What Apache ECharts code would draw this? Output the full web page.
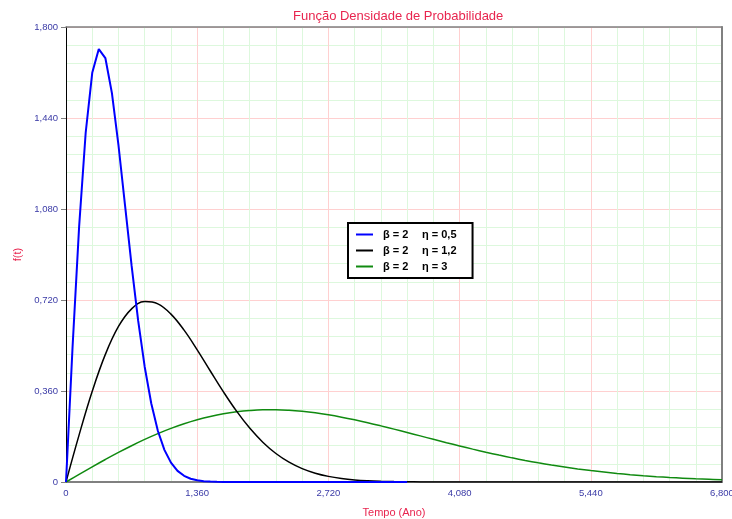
<!DOCTYPE html>
<html>
<head>
<meta charset="utf-8">
<script src="https://cdn.jsdelivr.net/npm/echarts@6/dist/echarts.min.js"></script>
<style>html,body{margin:0;padding:0;background:#fff;}#c{width:732px;height:519px;}</style>
</head>
<body>
<div id="c"></div>
<script>
// Tempo (Ano) sample points
const tempoA = [0,0.068,0.136,0.204,0.272,0.34,0.408,0.476,0.544,0.612,0.68,0.748,0.816,0.884,0.952,1.02,1.088,1.156,1.224,1.292,1.36,1.428,1.496,1.564,1.632,1.7,3.536];
const tempoB = [0,0.136,0.272,0.408,0.544,0.68,0.816,0.952,1.088,1.224,1.36,1.496,1.632,1.768,1.904,2.04,2.176,2.312,2.448,2.584,2.72,2.856,2.992,3.128,3.264,3.4,3.536,3.672,3.808,3.944,4.08,4.216,4.352,4.488,4.624,4.76,4.896,5.032,5.168,5.304,5.44,5.576,5.712,5.848,5.984,6.12,6.256,6.392,6.528,6.664,6.8];
// f(t) values
const fEta05 = [0,0.534,1.0104,1.3817,1.6186,1.7128,1.6772,1.5385,1.3322,1.0945,0.8557,0.6383,0.4551,0.3105,0.2029,0.1272,0.0765,0.0441,0.0245,0.013,0.0067,0.0033,0.0016,0.0007,0.0003,0.0001,0];
const fEta12 = [0,0.1865,0.3589,0.5048,0.6152,0.685,0.7137,0.7047,0.6642,0.6007,0.5229,0.4392,0.3566,0.2802,0.2133,0.1575,0.1128,0.0784,0.053,0.0348,0.0222,0.0138,0.0083,0.0049,0.0028,0.0015,0.0008,0.0004,0.0002,0.0001,0,0,0,0,0,0,0,0,0,0,0,0,0,0,0,0,0,0,0,0,0];
const fEta3 = [0,0.0302,0.06,0.089,0.117,0.1435,0.1684,0.1913,0.212,0.2303,0.2461,0.2592,0.2698,0.2776,0.2828,0.2855,0.2857,0.2837,0.2795,0.2735,0.2657,0.2564,0.2459,0.2344,0.222,0.2092,0.1959,0.1824,0.1689,0.1556,0.1426,0.13,0.1179,0.1064,0.0955,0.0853,0.0759,0.0671,0.0591,0.0517,0.0451,0.0392,0.0338,0.0291,0.0249,0.0212,0.018,0.0152,0.0127,0.0107,0.0089];
const seriesNames = ['β = 2|η = 0,5', 'β = 2|η = 1,2', 'β = 2|η = 3'];
const xTicks = [0,1.36,2.72,4.08,5.44,6.8];
const yTicks = [0,0.36,0.72,1.08,1.44,1.8];

const pairs = (xs, ys) => xs.map((x, i) => [x, ys[i]]);
const fmt = v => v === 0 ? '0' : v.toFixed(3).replace('.', ',');
const tickColor = '#3a3aa6';
const fontFam = 'Liberation Sans, Arial, sans-serif';
const minor = {show: true, lineStyle: {color: '#ddf8dd', width: 1}};
const major = {show: true, lineStyle: {color: '#ffd0d0', width: 1}};

const chart = echarts.init(document.getElementById('c'), null, {renderer: 'canvas'});
chart.setOption({
  animation: false,
  backgroundColor: '#ffffff',
  title: {
    text: 'Função Densidade de Probabilidade',
    left: 288, top: 5,
    textStyle: {color: '#e8254f', fontSize: 13, fontWeight: 'normal', fontFamily: fontFam}
  },
  grid: {left: 66, right: 10, top: 27, bottom: 37, show: false, containLabel: false, outerBoundsMode: 'none'},
  legend: {
    orient: 'vertical', left: 348, top: 223,
    backgroundColor: '#ffffff', borderColor: '#000000', borderWidth: 2,
    padding: [5, 16, 5, 8], itemGap: 3, itemWidth: 17, itemHeight: 10,
    icon: 'path://M0,4 L17,4 L17,6 L0,6 Z',
    formatter: name => { const p = name.split('|'); return '{a|' + p[0] + '}{b|' + p[1] + '}'; },
    textStyle: {
      color: '#000', fontWeight: 'bold', fontSize: 11, fontFamily: fontFam, lineHeight: 13,
      rich: {a: {width: 39, padding: [0, 0, 0, 5], fontWeight: 'bold', fontSize: 11, fontFamily: fontFam, color: '#000'},
             b: {fontWeight: 'bold', fontSize: 11, fontFamily: fontFam, color: '#000'}}
    },
    data: seriesNames
  },
  xAxis: [{
    type: 'value', min: 0, max: 6.8, interval: 1.36,
    name: 'Tempo (Ano)', nameLocation: 'middle', nameGap: 25,
    nameTextStyle: {color: '#e8254f', fontSize: 11, fontFamily: fontFam},
    axisLine: {show: true, onZero: false, lineStyle: {color: '#808080', width: 2}},
    axisTick: {show: false},
    axisLabel: {color: tickColor, fontSize: 9.5, fontFamily: fontFam, margin: 6, formatter: fmt, showMaxLabel: true},
    splitLine: major,
    minorTick: {show: false, splitNumber: 5},
    minorSplitLine: minor
  }, {
    type: 'value', position: 'top', min: 0, max: 6.8, interval: 1.36,
    axisLine: {show: true, onZero: false, lineStyle: {color: '#808080', width: 1.5}},
    axisTick: {show: false}, axisLabel: {show: false}, splitLine: {show: false}
  }],
  yAxis: [{
    type: 'value', min: 0, max: 1.8, interval: 0.36,
    name: 'f(t)', nameLocation: 'middle', nameGap: 41,
    nameTextStyle: {color: '#e8254f', fontSize: 11, fontFamily: fontFam},
    axisLine: {show: true, onZero: false, lineStyle: {color: '#000000', width: 1}},
    axisTick: {show: true, length: 5, lineStyle: {color: '#808080'}},
    axisLabel: {color: tickColor, fontSize: 9.5, fontFamily: fontFam, margin: 8, formatter: fmt},
    splitLine: major,
    minorTick: {show: false, splitNumber: 5},
    minorSplitLine: minor
  }, {
    type: 'value', position: 'right', min: 0, max: 1.8, interval: 0.36,
    axisLine: {show: true, onZero: false, lineStyle: {color: '#808080', width: 2}},
    axisTick: {show: false}, axisLabel: {show: false}, splitLine: {show: false}
  }],
  series: [
    {name: seriesNames[0], type: 'line', data: pairs(tempoA, fEta05), symbol: 'none', color: '#0000ff', lineStyle: {width: 2, color: '#0000ff'}, z: 4},
    {name: seriesNames[1], type: 'line', data: pairs(tempoB, fEta12), symbol: 'none', smooth: 0.4, color: '#000000', lineStyle: {width: 1.5, color: '#000000'}, z: 3},
    {name: seriesNames[2], type: 'line', data: pairs(tempoB, fEta3), symbol: 'none', smooth: 0.4, color: '#108a10', lineStyle: {width: 1.5, color: '#108a10'}, z: 2}
  ]
});
</script>
</body>
</html>
